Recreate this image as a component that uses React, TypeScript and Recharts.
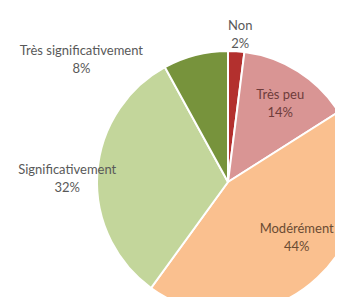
import React from "react";
import { PieChart, Pie, Cell } from "recharts";

const categories = ["Non", "Très peu", "Modérément", "Significativement", "Très significativement"];
const shares = [2, 14, 44, 32, 8];
const colors = ["#b3302e", "#d99594", "#fac08f", "#c3d69b", "#77933c"];

// label placement tweaks (px from the slice's outer mid point), Excel-style
const labelShift: Array<[number, number]> = [
  [4, -17],
  [-18, 32],
  [-21, -40],
  [-30, 5],
  [-114, 4],
];
const labelColor = ["#595959", "#6e3c3b", "#6b4c33", "#595959", "#595959"];

const data = categories.map((name, i) => ({ name, value: shares[i] }));

const RAD = Math.PI / 180;

function SliceLabel(props: any) {
  const { cx, cy, midAngle, outerRadius, index } = props;
  const x = cx + outerRadius * Math.cos(-midAngle * RAD) + labelShift[index][0];
  const y = cy + outerRadius * Math.sin(-midAngle * RAD) + labelShift[index][1];
  return (
    <text
      x={x}
      y={y}
      textAnchor="middle"
      fill={labelColor[index]}
      fontSize={13}
      fontFamily="Lato, sans-serif"
    >
      <tspan x={x} dy={-4.5}>{categories[index]}</tspan>
      <tspan x={x} dy={18}>{shares[index]}%</tspan>
    </text>
  );
}

export default function App() {
  return (
    <div style={{ margin: -8, width: 343, height: 305, background: "#fff", overflow: "hidden" }}>
      <PieChart width={343} height={305}>
        <Pie
          data={data}
          dataKey="value"
          nameKey="name"
          cx={223}
          cy={177}
          outerRadius={131}
          startAngle={90}
          endAngle={-270}
          stroke="#ffffff"
          strokeWidth={2}
          label={SliceLabel}
          labelLine={false}
          isAnimationActive={false}
        >
          {data.map((d, i) => (
            <Cell key={d.name} fill={colors[i]} />
          ))}
        </Pie>
      </PieChart>
    </div>
  );
}
